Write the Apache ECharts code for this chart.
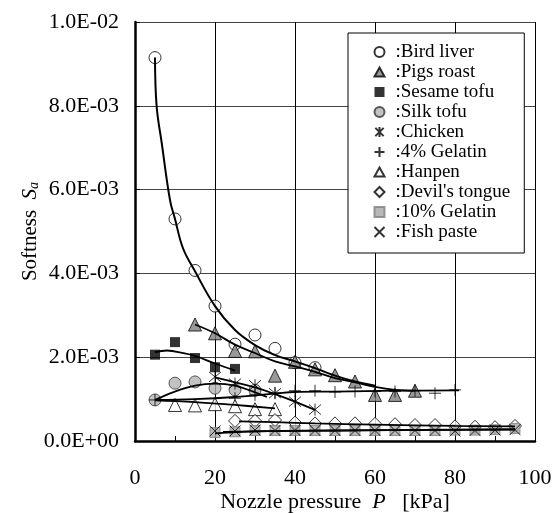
<!DOCTYPE html>
<html><head><meta charset="utf-8">
<script src="https://cdn.jsdelivr.net/npm/echarts@6/dist/echarts.min.js"></script>
<style>html,body{margin:0;padding:0;background:#fff}#c{width:556px;height:513px}</style>
</head><body><div id="c"></div>
<script>
// ---- data ----
const xTicks = [0, 20, 40, 60, 80, 100];
const birdP = [5, 10, 15, 20, 25, 30, 35, 40, 45];
const birdS = [9.15e-3, 5.30e-3, 4.07e-3, 3.22e-3, 2.31e-3, 2.53e-3, 2.21e-3, 1.87e-3, 1.75e-3];
const pigsP = [15, 20, 25, 30, 35, 40, 45, 50, 55, 60, 65, 70];
const pigsS = [2.78e-3, 2.57e-3, 2.15e-3, 2.14e-3, 1.56e-3, 1.89e-3, 1.71e-3, 1.57e-3, 1.42e-3, 1.10e-3, 1.10e-3, 1.20e-3];
const sesameP = [5, 10, 15, 20, 25];
const sesameS = [2.06e-3, 2.36e-3, 1.98e-3, 1.76e-3, 1.72e-3];
const silkP = [5, 10, 15, 20, 25, 30];
const silkS = [0.98e-3, 1.38e-3, 1.41e-3, 1.26e-3, 1.22e-3, 1.21e-3];
const chickenP = [20, 25, 30, 35, 40, 45];
const chickenS = [1.53e-3, 1.37e-3, 1.33e-3, 1.14e-3, 0.94e-3, 0.75e-3];
const gel4P = [5, 25, 30, 35, 40, 45, 50, 55, 60, 65, 70, 75, 80];
const gel4S = [0.98e-3, 1.02e-3, 1.10e-3, 1.15e-3, 1.20e-3, 1.20e-3, 1.17e-3, 1.18e-3, 1.18e-3, 1.18e-3, 1.20e-3, 1.14e-3, 1.22e-3];
const hanpenP = [10, 15, 20, 25, 30, 35];
const hanpenS = [0.86e-3, 0.85e-3, 0.88e-3, 0.83e-3, 0.76e-3, 0.76e-3];
const devilP = [25, 30, 35, 40, 45, 50, 55, 60, 65, 70, 75, 80, 85, 90, 95];
const devilS = [0.48e-3, 0.48e-3, 0.50e-3, 0.44e-3, 0.42e-3, 0.42e-3, 0.42e-3, 0.41e-3, 0.40e-3, 0.38e-3, 0.38e-3, 0.35e-3, 0.34e-3, 0.33e-3, 0.36e-3];
const gel10P = [20, 25, 30, 35, 40, 45, 50, 55, 60, 65, 70, 75, 80, 85, 90, 95];
const gel10S = [0.20e-3, 0.22e-3, 0.25e-3, 0.25e-3, 0.25e-3, 0.25e-3, 0.25e-3, 0.25e-3, 0.25e-3, 0.25e-3, 0.25e-3, 0.25e-3, 0.26e-3, 0.26e-3, 0.27e-3, 0.30e-3];
const fishP = [20, 25, 30, 35, 40, 45, 50, 55, 60, 65, 70, 75, 80, 85, 90, 95];
const fishS = [0.24e-3, 0.24e-3, 0.26e-3, 0.25e-3, 0.25e-3, 0.25e-3, 0.25e-3, 0.25e-3, 0.25e-3, 0.25e-3, 0.25e-3, 0.25e-3, 0.24e-3, 0.25e-3, 0.26e-3, 0.27e-3];

// fitted trend curves: [P, S]
const birdFit = [[5,9.15e-3],[5.4,8.0e-3],[6.7,7.1e-3],[8.75,5.75e-3],[10,5.3e-3],[12,4.6e-3],[15,4.05e-3],[20,3.22e-3],[25,2.65e-3],[30,2.29e-3],[35,2.05e-3],[40,1.90e-3],[45,1.74e-3],[50,1.56e-3],[55,1.42e-3],[60,1.32e-3]];
const pigsFit = [[15,2.78e-3],[20,2.57e-3],[25,2.30e-3],[30,2.10e-3],[35,1.90e-3],[40,1.78e-3],[45,1.65e-3],[50,1.50e-3],[55,1.40e-3],[60,1.29e-3],[65,1.22e-3],[70,1.20e-3]];
const sesameFit = [[5,2.12e-3],[8,2.16e-3],[12,2.10e-3],[15,2.03e-3],[20,1.85e-3],[25,1.68e-3]];
const silkFit = [[5,0.98e-3],[10,1.18e-3],[15,1.32e-3],[20,1.37e-3],[25,1.32e-3],[30,1.16e-3],[33,1.05e-3]];
const chickenFit = [[20,1.52e-3],[25,1.40e-3],[30,1.28e-3],[35,1.12e-3],[40,0.94e-3],[45,0.74e-3]];
const gel4Fit = [[5,0.98e-3],[15,1.00e-3],[25,1.05e-3],[35,1.13e-3],[40,1.17e-3],[50,1.18e-3],[65,1.20e-3],[81,1.21e-3]];
const hanpenFit = [[5,0.97e-3],[15,0.93e-3],[25,0.86e-3],[35,0.78e-3]];
const devilFit = [[26,0.47e-3],[35,0.45e-3],[45,0.42e-3],[60,0.39e-3],[80,0.36e-3],[95,0.35e-3]];
const gel10Fit = [[20,0.18e-3],[30,0.23e-3],[50,0.25e-3],[95,0.27e-3]];
const fishFit = [[22,0.22e-3],[40,0.24e-3],[60,0.26e-3],[95,0.28e-3]];

const FONT = '"Liberation Serif","Times New Roman",serif';
const zip = (a, b) => a.map((v, i) => [v, b[i]]);
function fmtE(v) {
  if (Math.abs(v) < 1e-12) return '0.0E+00';
  const e = Math.floor(Math.log10(v) + 1e-9);
  const m = v / Math.pow(10, e);
  return m.toFixed(1) + 'E' + (e < 0 ? '-' : '+') + String(Math.abs(e)).padStart(2, '0');
}
const P_PLUS = 'path://M0,5L10,5M5,0L5,10';
const P_X = 'path://M0,0L10,10M10,0L0,10';
const P_AST = 'path://M0,0L10,10M10,0L0,10M5,-1L5,11';
const P_TRI = 'path://M5,0L10,9L0,9Z';

const scat = [
  {name: 'Bird liver', d: zip(birdP, birdS), symbol: 'circle', size: 12, st: {color: '#fff', borderColor: '#000', borderWidth: 1}},
  {name: 'Pigs roast', d: zip(pigsP, pigsS), symbol: P_TRI, size: 13, st: {color: '#7f7f7f', borderColor: '#000', borderWidth: 1}},
  {name: 'Sesame tofu', d: zip(sesameP, sesameS), symbol: 'rect', size: 10, st: {color: '#000', borderColor: '#000', borderWidth: 0}},
  {name: 'Silk tofu', d: zip(silkP, silkS), symbol: 'circle', size: 12, st: {color: '#b3b3b3', borderColor: '#333', borderWidth: 1}},
  {name: 'Chicken', d: zip(chickenP, chickenS), symbol: P_AST, size: 12, st: {color: 'none', borderColor: '#000', borderWidth: 1}},
  {name: '4% Gelatin', d: zip(gel4P, gel4S), symbol: P_PLUS, size: 12, st: {color: 'none', borderColor: '#000', borderWidth: 1}},
  {name: 'Hanpen', d: zip(hanpenP, hanpenS), symbol: P_TRI, size: 13, st: {color: '#fff', borderColor: '#000', borderWidth: 1}},
  {name: "Devil's tongue", d: zip(devilP, devilS), symbol: 'diamond', size: 13, st: {color: '#fff', borderColor: '#000', borderWidth: 1}},
  {name: '10% Gelatin', d: zip(gel10P, gel10S), symbol: 'rect', size: 10, st: {color: '#a6a6a6', borderColor: '#808080', borderWidth: 1}},
  {name: 'Fish paste', d: zip(fishP, fishS), symbol: P_X, size: 11, st: {color: 'none', borderColor: '#000', borderWidth: 1}}
];
const fits = [birdFit, pigsFit, sesameFit, silkFit, chickenFit, gel4Fit, hanpenFit, devilFit, gel10Fit, fishFit];

const series = [];
scat.forEach(s => series.push({
  name: s.name, type: 'scatter', data: s.d, symbol: s.symbol, symbolSize: s.size,
  itemStyle: s.st, z: 3, silent: true
}));
fits.forEach((f, i) => series.push({
  name: 'fit' + i, type: 'line', data: f, smooth: 0.4, showSymbol: false, symbol: 'none',
  lineStyle: {color: '#000', width: i === 0 ? 2 : 1.8}, z: 4, silent: true
}));

const chart = echarts.init(document.getElementById('c'), null, {renderer: 'canvas'});
chart.setOption({
  animation: false,
  backgroundColor: '#fff',
  grid: {left: 135, right: 21, top: 22, bottom: 72, containLabel: false, outerBoundsMode: 'none'},
  xAxis: {
    type: 'value', min: 0, max: 100, interval: 20,
    name: '{n|Nozzle pressure  }{i|P}{n|   [kPa]}', nameLocation: 'middle', nameGap: 50, nameMoveOverlap: false,
    nameTextStyle: {rich: {n: {fontFamily: FONT, fontSize: 22, color: '#000'}, i: {fontFamily: FONT, fontSize: 22, fontStyle: 'italic', color: '#000'}}},
    axisLine: {show: true, onZero: false, lineStyle: {color: '#000', width: 2.5}},
    axisTick: {show: true, inside: true, length: 5, lineStyle: {color: '#000', width: 1}},
    minorTick: {show: true, splitNumber: 2, length: 5, lineStyle: {color: '#000', width: 1}},
    splitLine: {show: true, lineStyle: {color: '#000', width: 1}},
    axisLabel: {fontFamily: FONT, fontSize: 22, color: '#000', margin: 26, formatter: v => '' + v}
  },
  yAxis: {
    type: 'value', min: 0, max: 0.01, interval: 0.002,
    name: '{n|Softness  }{i|S}{s|a}', nameLocation: 'middle', nameGap: 94, nameRotate: 90, nameMoveOverlap: false,
    nameTextStyle: {rich: {n: {fontFamily: FONT, fontSize: 21, color: '#000'}, i: {fontFamily: FONT, fontSize: 21, fontStyle: 'italic', color: '#000'}, s: {fontFamily: FONT, fontSize: 14, fontStyle: 'italic', color: '#000', padding: [8, 0, 0, 0]}}},
    axisLine: {show: true, onZero: false, lineStyle: {color: '#000', width: 2.5}},
    axisTick: {show: true, inside: true, length: 5, lineStyle: {color: '#000', width: 1}},
    splitLine: {show: true, lineStyle: {color: '#444', width: 1}},
    axisLabel: {fontFamily: FONT, fontSize: 22, color: '#000', margin: 16, formatter: fmtE}
  },
  legend: {
    data: scat.map(s => s.name), orient: 'vertical', left: 348, top: 33,
    backgroundColor: '#fff', borderColor: '#000', borderWidth: 1,
    padding: [9, 14, 11, 24], itemWidth: 10, itemHeight: 10, itemGap: 0,
    formatter: ':{name}', selectedMode: false,
    textStyle: {fontFamily: FONT, fontSize: 19, color: '#000', lineHeight: 20, padding: [0, 0, 0, 6]}
  },
  series: series
});
</script></body></html>
